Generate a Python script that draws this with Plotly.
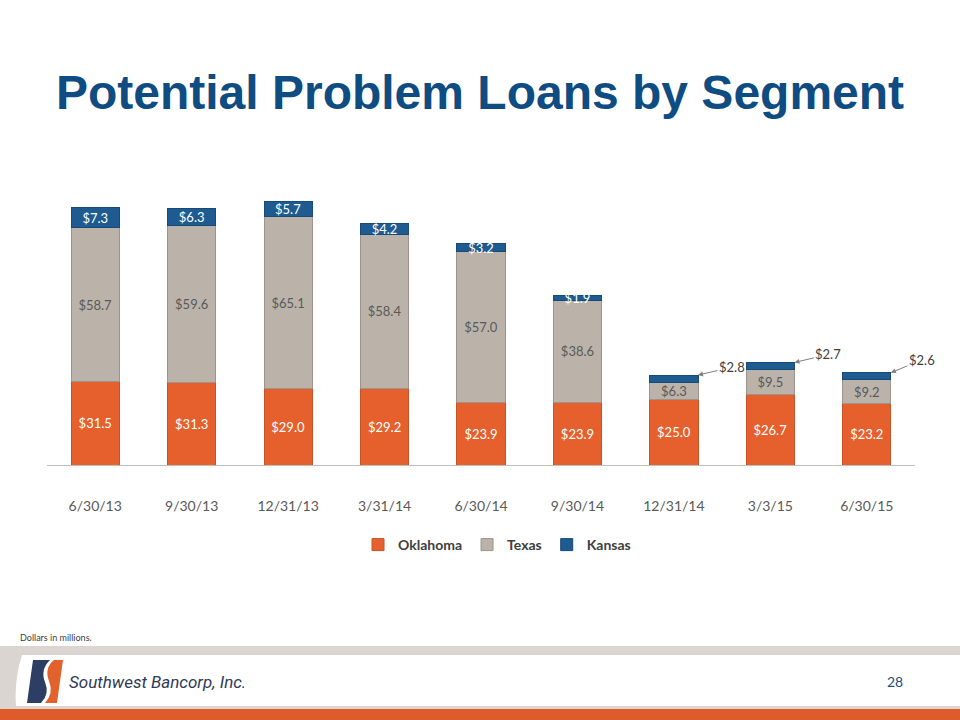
import plotly.graph_objects as go

categories = ["6/30/13", "9/30/13", "12/31/13", "3/31/14", "6/30/14", "9/30/14", "12/31/14", "3/3/15", "6/30/15"]
oklahoma = [31.5, 31.3, 29.0, 29.2, 23.9, 23.9, 25.0, 26.7, 23.2]
texas = [58.7, 59.6, 65.1, 58.4, 57.0, 38.6, 6.3, 9.5, 9.2]
kansas = [7.3, 6.3, 5.7, 4.2, 3.2, 1.9, 2.8, 2.7, 2.6]
# Kansas values that are labelled with a callout arrow instead of inside the bar
callout_idx = [6, 7, 8]
callout_offsets = [(34, -8), (34, -8), (31, -13)]

W, H = 960, 720
L, R, T, B = 47, 45, 180, 255
PW, PH = W - L - R, H - T - B


def px(x):
    return (x - L) / PW


def py(y):
    return (H - B - y) / PH


def fmt(v):
    return "$%.1f" % v


FONT = "Lato, 'Open Sans', sans-serif"
c_ok, c_tx, c_ks = "#E5602D", "#BBB3AA", "#1D5B91"

fig = go.Figure()
fig.add_trace(go.Bar(
    name="Oklahoma", x=categories, y=oklahoma,
    text=[fmt(v) for v in oklahoma], textposition="inside", insidetextanchor="middle",
    textfont=dict(color="white", size=13, family=FONT), constraintext="none",
    marker=dict(color=c_ok, line=dict(color="#C4532A", width=1)),
))
fig.add_trace(go.Bar(
    name="Texas", x=categories, y=texas,
    text=[fmt(v) for v in texas], textposition="inside", insidetextanchor="middle",
    textfont=dict(color="#595959", size=13, family=FONT), constraintext="none",
    marker=dict(color=c_tx, line=dict(color="#9C948C", width=1)),
))
fig.add_trace(go.Bar(
    name="Kansas", x=categories, y=kansas,
    text=["" if i in callout_idx else fmt(v) for i, v in enumerate(kansas)],
    textposition="inside", insidetextanchor="middle",
    textfont=dict(color="white", size=13, family=FONT), constraintext="none",
    marker=dict(color=c_ks, line=dict(color="#174A78", width=1)),
))

annotations = []
for i, (ax, ay) in zip(callout_idx, callout_offsets):
    total = oklahoma[i] + texas[i] + kansas[i]
    annotations.append(dict(
        x=i + 0.25, y=total, xref="x", yref="y", text=fmt(kansas[i]),
        showarrow=True, ax=ax, ay=ay, arrowhead=2, arrowsize=1, arrowwidth=1,
        arrowcolor="#808080", standoff=0,
        font=dict(size=13, color="#404040", family=FONT),
    ))

# footnote, footer text
annotations.append(dict(x=px(18), y=py(637), xref="paper", yref="paper", text="Dollars in millions.",
                        showarrow=False, xanchor="left", yanchor="middle",
                        font=dict(size=9, color="#404040", family=FONT)))
annotations.append(dict(x=px(67), y=py(682), xref="paper", yref="paper",
                        text="<i>Southwest Bancorp, Inc.</i>",
                        showarrow=False, xanchor="left", yanchor="middle",
                        font=dict(size=17, color="#2F3A57", family="Roboto, sans-serif")))
annotations.append(dict(x=px(895), y=py(681), xref="paper", yref="paper", text="28",
                        showarrow=False, xanchor="center", yanchor="middle",
                        font=dict(size=14, color="#1F4E79", family=FONT)))


def rect(x0, y0, x1, y1, color):
    return dict(type="rect", xref="paper", yref="paper", x0=px(x0), x1=px(x1), y0=py(y1), y1=py(y0),
                fillcolor=color, line=dict(width=0), layer="below")


def path(points_cmds, color):
    s = ""
    for cmd, pts in points_cmds:
        s += cmd + " " + " ".join("%f,%f" % (px(a), py(b)) for a, b in pts) + " "
    return dict(type="path", xref="paper", yref="paper", path=s + "Z",
                fillcolor=color, line=dict(width=0), layer="above")


shapes = [
    rect(0, 646, 960, 709, "#DAD5D0"),
    rect(0, 709, 960, 720, "#DE5B2B"),
    dict(type="path", xref="paper", yref="paper", fillcolor="white", line=dict(width=0), layer="below",
         path="M %f,%f L %f,%f L %f,%f L %f,%f Q %f,%f %f,%f Z" % (
             px(22), py(655), px(960), py(655), px(960), py(706), px(16), py(706),
             px(14), py(680), px(22), py(655))),
    path([("M", [(33, 660)]), ("L", [(50, 660)]), ("Q", [(40, 670), (45, 682)]),
          ("Q", [(50, 694), (41, 703)]), ("L", [(27, 703)])], "#2C3E63"),
    path([("M", [(54, 660)]), ("L", [(63, 660)]), ("L", [(57, 703)]), ("L", [(45, 703)]),
          ("Q", [(54, 693), (49, 681)]), ("Q", [(44, 668), (54, 660)])], "#E2622D"),
]

fig.update_layout(
    width=W, height=H,
    margin=dict(l=L, r=R, t=T, b=B, pad=0),
    paper_bgcolor="white", plot_bgcolor="white",
    barmode="stack", bargap=0.5,
    title=dict(text="<b>Potential Problem Loans by Segment</b>", x=0.5, xanchor="center",
               y=1 - 92 / H, yanchor="middle",
               font=dict(size=48, color="#0F4C81", family="'Liberation Sans', Arial, sans-serif")),
    xaxis=dict(showline=True, linecolor="#BFBFBF", linewidth=1, ticks="", showgrid=False,
               range=[-0.5, len(categories) - 0.5], autorange=False,
               tickfont=dict(size=14, color="#595959", family=FONT), ticklabelstandoff=28),
    yaxis=dict(range=[0, PH / 2.636], autorange=False, visible=False, showgrid=False, zeroline=False),
    showlegend=True,
    legend=dict(orientation="h", x=px(497), xanchor="center", y=py(545), yanchor="middle",
                font=dict(size=14, color="#404040", family=FONT, weight="bold"),
                traceorder="normal", itemwidth=30),
    annotations=annotations,
    shapes=shapes,
)

fig.write_html("out.html")
